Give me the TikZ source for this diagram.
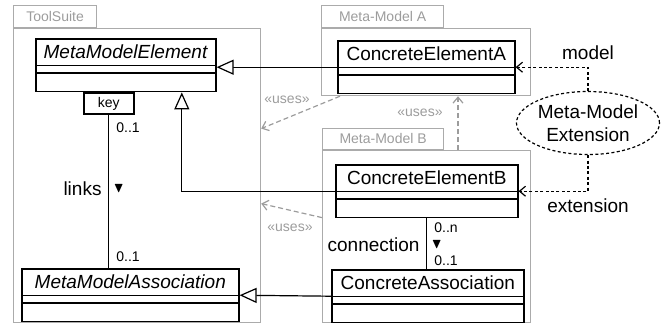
\documentclass[tikz,border=0pt]{standalone}
\usepackage{amssymb}
\usepackage{fontspec}
\setmainfont{Liberation Sans}
\usetikzlibrary{
   arrows.meta,
   positioning,
   shapes.multipart,
   shapes.geometric
}

\definecolor{pkggray}{HTML}{ABABAB}
\definecolor{usesgray}{HTML}{9C9C9C}

\newcommand{\mainsize}{\fontsize{9.5}{11.5}\selectfont}
\newcommand{\smallsize}{\fontsize{7}{8.5}\selectfont}
\newcommand{\namestrut}{\rule[-3pt]{0pt}{12.5pt}}
\newcommand{\attrstrut}{\rule{0pt}{3pt}}
\newcommand{\opsstrut}{\rule{0pt}{8.5pt}}

\begin{document}
\begin{tikzpicture}[
    x=0.5pt, y=-0.5pt,
    every node/.style={font=\mainsize},
    umlclass/.style={rectangle split, rectangle split parts=3, draw, line width=0.8pt,
        inner xsep=2pt, inner ysep=0pt, anchor=north west, fill=white},
    qual/.style={draw, line width=0.8pt, font=\smallsize, minimum width=25pt,
        minimum height=10.5pt, inner sep=0pt, fill=white},
    pkg/.style={draw=pkggray, line width=0.6pt, anchor=north west, inner sep=0pt},
    pkgtab/.style={draw=pkggray, line width=0.6pt, anchor=south west, inner sep=0pt,
        text=usesgray, font=\smallsize},
    gen/.style={line width=0.6pt, -{Triangle[open, length=8.5pt, width=7.5pt, fill=white]}},
    assoc/.style={line width=0.6pt},
    uses/.style={usesgray, line width=0.6pt, dash pattern=on 2.5pt off 1.5pt,
        -{Straight Barb[length=3pt, width=5pt]}},
    usesl/.style={font=\smallsize, text=usesgray},
    dep/.style={line width=0.6pt, dash pattern=on 1.5pt off 1.2pt,
        -{Straight Barb[length=3pt, width=5pt]}},
    mult/.style={font=\smallsize, inner sep=1pt}
]
\useasboundingbox (0,0) rectangle (665,329);

% packages
\node[pkgtab, minimum width=41.5pt, minimum height=11pt] (tooltab) at (13,28) {ToolSuite};
\node[pkg, minimum width=123.5pt, minimum height=147pt] (tool) at (13,28) {};
\node[pkgtab, minimum width=61pt, minimum height=11pt] (pkgatab) at (321,28) {Meta-Model A};
\node[pkg, minimum width=104.5pt, minimum height=33.5pt] (pkga) at (321,28) {};
\node[pkgtab, minimum width=60.5pt, minimum height=10.5pt] (pkgbtab) at (322,150) {Meta-Model B};
\node[pkg, minimum width=104pt, minimum height=86pt] (pkgb) at (322,150) {};

% classes
\node[umlclass, minimum width=90pt] (mme) at (35,38)
  {\textit{MetaModelElement}\namestrut \nodepart{two}\attrstrut \nodepart{three}\opsstrut};
\node[umlclass, minimum width=108.5pt] (mma) at (21,268)
  {\textit{MetaModelAssociation}\namestrut \nodepart{two}\attrstrut \nodepart{three}\opsstrut};
\node[umlclass, minimum width=88.5pt] (cea) at (337,40)
  {ConcreteElementA\namestrut \nodepart{two}\attrstrut \nodepart{three}\opsstrut};
\node[umlclass, minimum width=91pt] (ceb) at (335,164)
  {ConcreteElementB\namestrut \nodepart{two}\attrstrut \nodepart{three}\opsstrut};
\node[umlclass, minimum width=96pt] (ca) at (331,269)
  {ConcreteAssociation\namestrut \nodepart{two}\attrstrut \nodepart{three}\opsstrut};

% qualifier
\node[qual, below=0pt of mme.south, xshift=-8.5pt] (key) {key};

% extension
\node[ellipse, draw, line width=0.6pt, dash pattern=on 1.5pt off 1.2pt, minimum width=71.5pt,
    minimum height=31.5pt, inner sep=0pt, align=center] (ext) at (588,123) {Meta-Model\\Extension};

% generalizations
\draw[gen] (cea.west) -- (cea.west -| mme.east);
\draw[gen] (ceb.west) -| ([xshift=28pt]mme.south);
\draw[gen] (ca.west) -- (mma.east);

% associations
\draw[assoc] (key.south) -- (key.south |- mma.north)
  node[mult, pos=0, anchor=north west, xshift=2.5pt, yshift=-2.5pt] {0..1}
  node[mult, pos=1, anchor=south west, xshift=2.5pt, yshift=2pt] {0..1}
  node[pos=0.48, left] {links}
  node[pos=0.48, right, inner sep=2pt] {\scriptsize$\blacktriangledown$};
\draw[assoc] (ceb.south) -- (ceb.south |- ca.north)
  node[mult, pos=0, anchor=north west, xshift=2.5pt, yshift=-1pt] {0..n}
  node[mult, pos=1, anchor=south west, xshift=2.5pt, yshift=0.5pt] {0..1}
  node[pos=0.52, left] {connection}
  node[pos=0.52, right, inner sep=2pt] {\scriptsize$\blacktriangledown$};

% uses
\draw[uses] ([xshift=9.5pt]pkga.south west) -- ([yshift=23.5pt]tool.east);
\node[usesl] (uses1) at (287,100) {«uses»};
\draw[uses] ([xshift=68pt]pkgb.north west) -- ([xshift=68.5pt]pkga.south west);
\node[usesl] (uses2) at (420,113) {«uses»};
\draw[uses] ([yshift=9.5pt]pkgb.west) -- ([yshift=-14pt]tool.east);
\node[usesl] (uses3) at (290,228) {«uses»};

% model / extension
\draw[dep] (ext.north) |- (cea.east) node[pos=0.5, above] {model};
\draw[dep] (ext.south) |- (ceb.east) node[pos=0.5, below] {extension};

\end{tikzpicture}
\end{document}
